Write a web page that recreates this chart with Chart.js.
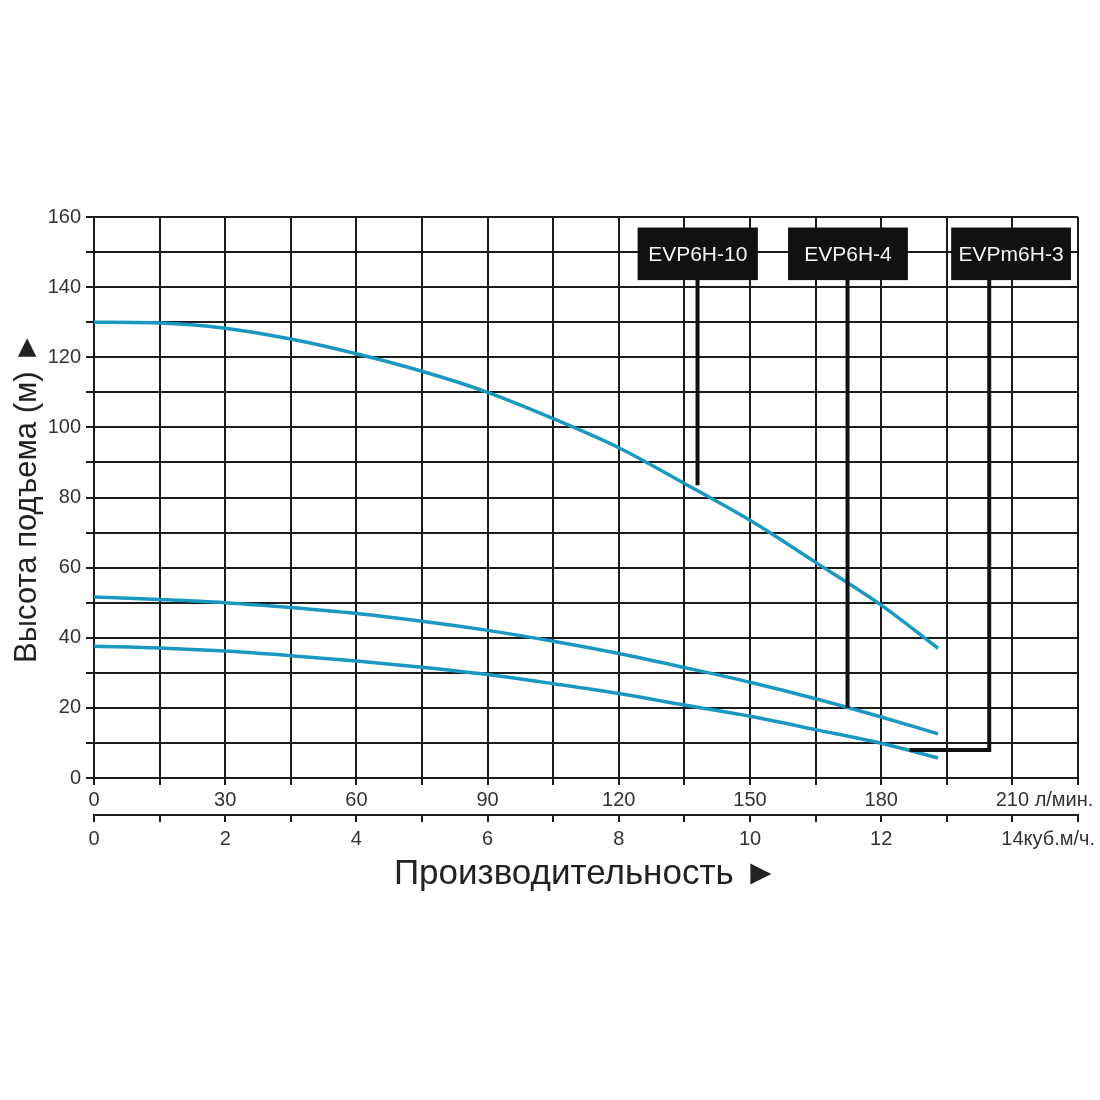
<!DOCTYPE html>
<html><head><meta charset="utf-8">
<script src="https://cdn.jsdelivr.net/npm/chart.js@4.4.1/dist/chart.umd.min.js"></script>
<style>html,body{margin:0;padding:0;background:#fff;}#wrap{width:1100px;height:1100px;}</style>
</head><body><div id="wrap"><canvas id="c" width="1100" height="1100"></canvas></div>
<script>
// Flow (l/min) and head (m)
const flowLpm     = [0, 15, 30, 45, 60, 75, 90, 105, 120, 135, 150, 165, 180, 193];
const headEVP6H10 = [130, 129.8, 128.3, 125.2, 121, 116, 110, 102.5, 94.2, 84, 73.5, 61.5, 49.3, 37];
const headEVP6H4  = [51.6, 50.9, 50, 48.6, 46.9, 44.7, 42.1, 39, 35.5, 31.5, 27.3, 22.6, 17.4, 12.6];
const headEVPm6H3 = [37.6, 37.1, 36.2, 34.9, 33.4, 31.6, 29.5, 26.9, 24.1, 20.8, 17.6, 13.8, 9.9, 5.7];

// axis labels
const yTickLabels = [0, 20, 40, 60, 80, 100, 120, 140, 160];
const lpmTickLabels = [0, 30, 60, 90, 120, 150, 180, 210];
const m3hTickLabels = [0, 2, 4, 6, 8, 10, 12, 14];
const lpmUnit = 'л/мин.';
const m3hUnit = 'куб.м/ч.';
const yTitle = 'Высота подъема (м) ►';
const xTitle = 'Производительность ►';

// callouts (data units: l/min, m)
const calloutNames   = ['EVP6H-10', 'EVP6H-4', 'EVPm6H-3'];
const calloutBoxFrom = [124.3, 158.7, 196];
const calloutBoxTo   = [151.8, 186.1, 223.4];
const calloutBoxTop  = [157, 157, 157];
const calloutBoxBot  = [142, 142, 142];
const calloutLineX   = [138, 172.3, 204.7];
const calloutLineEnd = [83.5, 20, 8];
const calloutElbowX  = [null, null, 186.5];

const CURVE = '#1b98c0';
const GRID = '#1c1c1c';
const TXT = '#333333';
const FONT = 'Liberation Sans, Arial, sans-serif';

function series(heads) { return flowLpm.map((x, i) => ({x: x, y: heads[i]})); }

const calloutPlugin = {
  id: 'callouts',
  afterDatasetsDraw(chart) {
    const ctx = chart.ctx, xs = chart.scales.x, ys = chart.scales.y;
    ctx.save();
    for (let i = 0; i < calloutNames.length; i++) {
      const lx = xs.getPixelForValue(calloutLineX[i]);
      const bBot = ys.getPixelForValue(calloutBoxBot[i]);
      ctx.strokeStyle = '#111';
      ctx.lineWidth = 4;
      ctx.lineCap = 'butt';
      ctx.beginPath();
      ctx.moveTo(lx, bBot);
      const ey = ys.getPixelForValue(calloutLineEnd[i]);
      ctx.lineTo(lx, ey);
      if (calloutElbowX[i] !== null) {
        ctx.lineTo(xs.getPixelForValue(calloutElbowX[i]), ey);
      }
      ctx.stroke();
      const x0 = xs.getPixelForValue(calloutBoxFrom[i]);
      const x1 = xs.getPixelForValue(calloutBoxTo[i]);
      const y0 = ys.getPixelForValue(calloutBoxTop[i]);
      ctx.fillStyle = '#111';
      ctx.fillRect(x0, y0, x1 - x0, bBot - y0);
      ctx.fillStyle = '#f4f4f4';
      ctx.font = '21px ' + FONT;
      ctx.textAlign = 'center';
      ctx.textBaseline = 'middle';
      ctx.fillText(calloutNames[i], (x0 + x1) / 2, (y0 + bBot) / 2 + 1);
    }
    // unit labels after last tick labels
    ctx.fillStyle = TXT;
    ctx.font = '20px ' + FONT;
    ctx.textAlign = 'left';
    ctx.textBaseline = 'middle';
    const last = lpmTickLabels[lpmTickLabels.length - 1];
    const px = xs.getPixelForValue(last) + ctx.measureText(String(last)).width / 2;
    ctx.fillText(' ' + lpmUnit, px, xs.top + 22);
    const x2 = chart.scales.x2;
    const lastM = m3hTickLabels[m3hTickLabels.length - 1];
    const px2 = x2.getPixelForValue(lastM) + ctx.measureText(String(lastM)).width / 2;
    ctx.fillText(m3hUnit, px2, x2.top + 24);
    ctx.restore();
  }
};

new Chart(document.getElementById('c'), {
  type: 'line',
  data: {
    datasets: [
      {label: 'EVP6H-10', data: series(headEVP6H10)},
      {label: 'EVP6H-4', data: series(headEVP6H4)},
      {label: 'EVPm6H-3', data: series(headEVPm6H3)}
    ].map(d => Object.assign(d, {borderColor: CURVE, borderWidth: 3.5, pointRadius: 0, cubicInterpolationMode: 'monotone', fill: false}))
  },
  options: {
    responsive: false,
    devicePixelRatio: 1,
    animation: false,
    layout: {padding: {top: 217, right: 22, bottom: 198, left: 0}},
    plugins: {legend: {display: false}, tooltip: {enabled: false}},
    scales: {
      x: {
        type: 'linear', position: 'bottom', min: 0, max: 225,
        afterFit(s) { s.height = 37; },
        ticks: {stepSize: 15, autoSkip: false, maxRotation: 0, padding: 3, color: TXT, font: {size: 20, family: FONT},
          callback: v => lpmTickLabels.includes(v) ? String(v) : ''},
        grid: {color: GRID, lineWidth: 2, tickLength: 7, drawTicks: true},
        border: {display: true, color: GRID, width: 2}
      },
      x2: {
        type: 'linear', position: 'bottom', min: 0, max: 15,
        afterFit(s) { s.height = 87; },
        ticks: {stepSize: 1, autoSkip: false, maxRotation: 0, padding: 5, color: TXT, font: {size: 20, family: FONT},
          callback: v => m3hTickLabels.includes(v) ? String(v) : ''},
        grid: {drawOnChartArea: false, color: GRID, lineWidth: 2, tickLength: 7},
        border: {display: true, color: GRID, width: 2},
        title: {display: true, text: xTitle, color: '#222', font: {size: 35, family: FONT}, padding: {top: 0, bottom: 7}}
      },
      y: {
        min: 0, max: 160,
        afterFit(s) { s.width = 94; },
        ticks: {stepSize: 10, autoSkip: false, padding: 5, color: TXT, font: {size: 20, family: FONT},
          callback: v => yTickLabels.includes(v) ? String(v) : ''},
        grid: {color: GRID, lineWidth: 2, tickLength: 8},
        border: {display: true, color: GRID, width: 2},
        title: {display: true, text: yTitle, color: '#222', font: {size: 31, family: FONT}, padding: {top: 9, bottom: 0}}
      }
    }
  },
  plugins: [calloutPlugin]
});
</script>
</body></html>
